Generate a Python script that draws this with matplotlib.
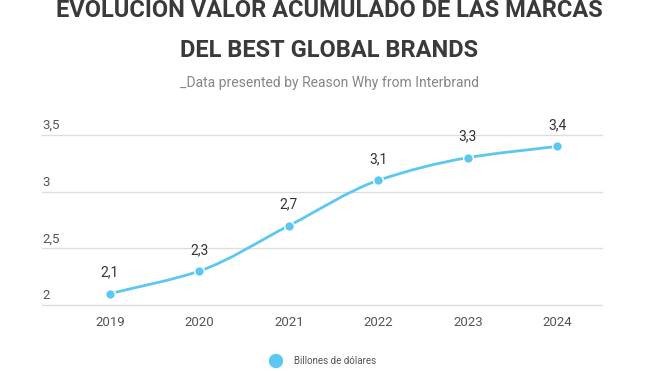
import matplotlib.pyplot as plt
from matplotlib.path import Path
from matplotlib.patches import PathPatch, Ellipse
from matplotlib import transforms
import numpy as np

years = ['2019', '2020', '2021', '2022', '2023', '2024']
values = [2.1, 2.3, 2.7, 3.1, 3.3, 3.4]
labels = ['2,1', '2,3', '2,7', '3,1', '3,3', '3,4']
yticks = [2, 2.5, 3, 3.5]
ytick_labels = ['2', '2,5', '3', '3,5']

line_color = '#5cc8f2'
plt.rcParams['font.family'] = ['Roboto', 'DejaVu Sans']

fig = plt.figure(figsize=(6.59, 3.71), dpi=100)
fig.patch.set_facecolor('white')
ax = fig.add_axes([0.0637, 0.1779, 0.8498, 0.4582])

x = np.arange(len(years))
y = np.array(values)

# smooth curve through the points (monotone cubic as bezier segments)
d = np.diff(y) / np.diff(x)
m = np.zeros_like(y)
m[0] = d[0]
m[-1] = d[-1]
for i in range(1, len(y) - 1):
    if d[i - 1] * d[i] <= 0:
        m[i] = 0
    else:
        m[i] = 2 / (1 / d[i - 1] + 1 / d[i])
verts = [(x[0], y[0])]
codes = [Path.MOVETO]
for i in range(len(x) - 1):
    h = x[i + 1] - x[i]
    verts += [(x[i] + h / 3, y[i] + m[i] * h / 3),
              (x[i + 1] - h / 3, y[i + 1] - m[i + 1] * h / 3),
              (x[i + 1], y[i + 1])]
    codes += [Path.CURVE4] * 3
ax.add_patch(PathPatch(Path(verts, codes), facecolor='none',
                       edgecolor=line_color, lw=2, zorder=3))
ax.plot(x, y, 'o', color=line_color, ms=7, mec='white', mew=1, zorder=4)

for xi, yi, lab in zip(x, y, labels):
    ax.annotate(lab, (xi, yi), xytext=(0, 10), textcoords='offset points',
                ha='center', va='bottom', fontsize=10, color='#333333')

ax.set_xlim(-0.76, 5.5)
ax.set_ylim(2, 3.5)
for yt in yticks:
    ax.axhline(yt, color='#dddddd', lw=1, zorder=1, clip_on=False)
trans = transforms.blended_transform_factory(ax.transAxes, ax.transData)
for yt, lab in zip(yticks, ytick_labels):
    ax.annotate(lab, (0, yt), xycoords=trans, xytext=(0, 2),
                textcoords='offset points', ha='left', va='bottom',
                fontsize=9.5, color='#555555')
ax.set_xticks(x)
ax.set_xticklabels(years, fontsize=9.5, color='#555555')
ax.tick_params(axis='x', length=0, pad=8)
ax.set_yticks([])
for s in ax.spines.values():
    s.set_visible(False)

fig.text(0.5, 0.972, 'EVOLUCIÓN VALOR ACUMULADO DE LAS MARCAS', ha='center',
         va='center', fontsize=17, fontweight='bold', color='#3a3a3a')
fig.text(0.5, 0.865, 'DEL BEST GLOBAL BRANDS', ha='center',
         va='center', fontsize=17, fontweight='bold', color='#3a3a3a')
fig.text(0.5, 0.776, '_Data presented by Reason Why from Interbrand',
         ha='center', va='center', fontsize=10, color='#858585')

fig.patches.append(Ellipse((276 / 659, 10 / 371), 13 / 659, 13 / 371,
                           transform=fig.transFigure, color=line_color))
fig.text(294 / 659, 10 / 371, 'Billones de dólares', ha='left', va='center',
         fontsize=7, color='#555555')

fig.savefig('out.png', dpi=100, facecolor='white')
